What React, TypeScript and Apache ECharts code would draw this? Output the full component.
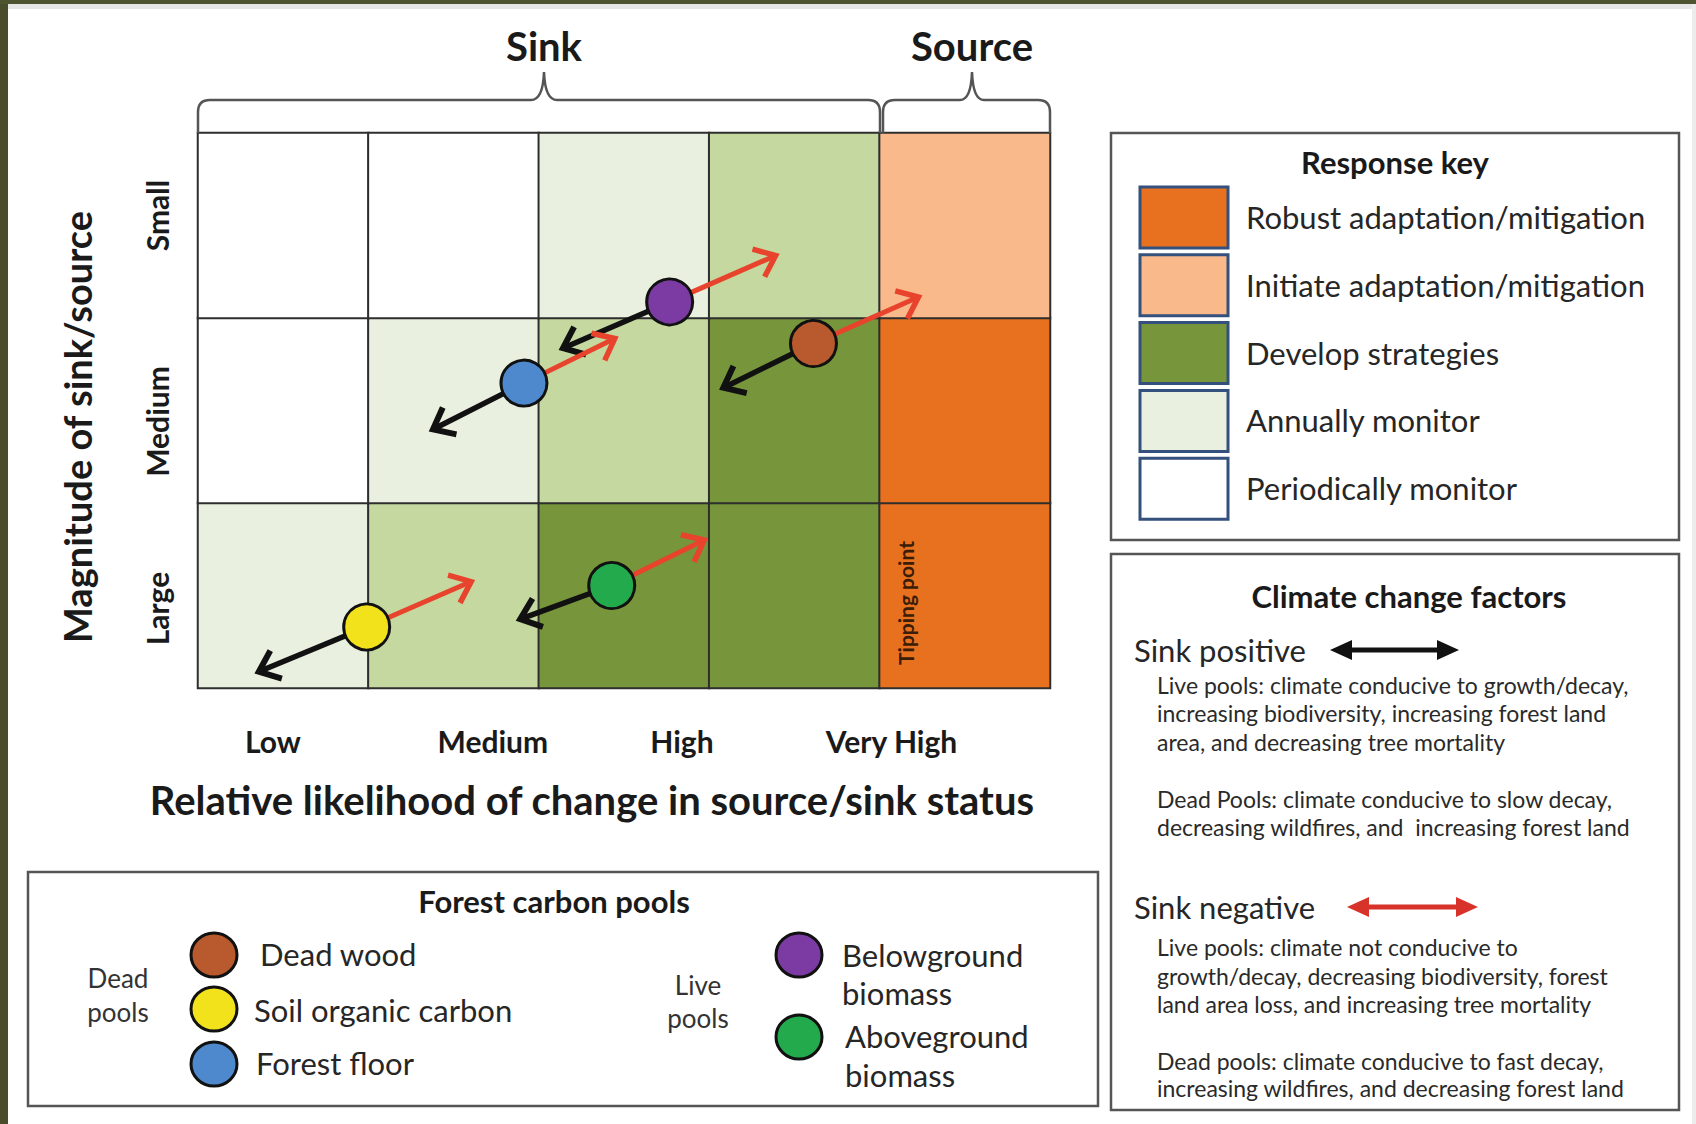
import React, { useEffect, useRef } from 'react';
import * as echarts from 'echarts';

// ---------- data ----------
const likelihoodCols = ['Low', 'Medium', 'High', 'Very High', 'Source'];
const magnitudeRows = ['Large', 'Medium', 'Small'];
const levelColors = ['#ffffff', '#e9f0df', '#c4d89f', '#77953b', '#f9b98b', '#e8711f'];
// levels per row (Large, Medium, Small) and column
const cellLevels = [
  [1, 2, 3, 3, 5],
  [0, 1, 2, 3, 5],
  [0, 0, 1, 2, 4],
];
const likelihoodTickLabels = ['Low', 'Medium', 'High', 'Very High'];
const likelihoodTickPos = [0.44, 1.73, 2.84, 4.07];

const poolNames = ['Dead wood', 'Soil organic carbon', 'Forest floor', 'Belowground biomass', 'Aboveground biomass'];
const poolColors = ['#b85a2e', '#f2e21c', '#4d89cc', '#7b3ba3', '#22aa4c'];
const poolX = [3.612, 0.99, 1.913, 2.768, 2.428];
const poolY = [1.862, 0.33, 1.648, 2.087, 0.554];
const sinkPosX = [3.083, 0.357, 1.379, 2.142, 1.891];
const sinkPosY = [1.623, 0.088, 1.398, 1.837, 0.372];
const sinkNegX = [4.228, 1.603, 2.446, 3.39, 2.971];
const sinkNegY = [2.113, 0.575, 1.889, 2.338, 0.8];

const keyLabels = ['Robust adaptation/mitigation', 'Initiate adaptation/mitigation', 'Develop strategies', 'Annually monitor', 'Periodically monitor'];
const keyLevels = [5, 4, 3, 1, 0];

const sinkPositiveLines = [
  'Live pools: climate conducive to growth/decay,',
  'increasing biodiversity, increasing forest land',
  'area, and decreasing tree mortality',
  'Dead Pools: climate conducive to slow decay,',
  'decreasing wildfires, and  increasing forest land',
];
const sinkNegativeLines = [
  'Live pools: climate not conducive to',
  'growth/decay, decreasing biodiversity, forest',
  'land area loss, and increasing tree mortality',
  'Dead pools: climate conducive to fast decay,',
  'increasing wildfires, and decreasing forest land',
];

const FONT = 'Lato, "Open Sans", sans-serif';

function txt(x: number, y: number, text: string, size: number, opts: any = {}) {
  const align = opts.align || 'left';
  return {
    type: 'text',
    x,
    y,
    z: 100,
    rotation: opts.rotation || 0,
    style: {
      text,
      fill: opts.color || '#222',
      fontSize: size,
      fontWeight: opts.bold ? 'bold' : 'normal',
      fontFamily: FONT,
      align,
      textAlign: align,
      verticalAlign: 'middle',
      textVerticalAlign: 'middle',
    },
  };
}

function arrowRender(color: string, width: number, head: number) {
  return (params: any, api: any) => {
    const p0 = api.coord([api.value(0), api.value(1)]);
    const p1 = api.coord([api.value(2), api.value(3)]);
    const ang = Math.atan2(p1[1] - p0[1], p1[0] - p0[0]);
    const a1 = ang + Math.PI - 0.68;
    const a2 = ang + Math.PI + 0.68;
    const h1 = [p1[0] + head * Math.cos(a1), p1[1] + head * Math.sin(a1)];
    const h2 = [p1[0] + head * Math.cos(a2), p1[1] + head * Math.sin(a2)];
    const e = [p1[0] - 3 * Math.cos(ang), p1[1] - 3 * Math.sin(ang)];
    return {
      type: 'group',
      children: [
        { type: 'line', shape: { x1: p0[0], y1: p0[1], x2: e[0], y2: e[1] }, style: { stroke: color, lineWidth: width } },
        { type: 'polyline', shape: { points: [h1, p1, h2] }, style: { stroke: color, lineWidth: width + 0.5, fill: null, lineJoin: 'miter' } },
      ],
    };
  };
}

function doubleArrow(x1: number, x2: number, y: number, color: string) {
  return [
    { type: 'line', z: 100, shape: { x1: x1 + 12, y1: y, x2: x2 - 12, y2: y }, style: { stroke: color, lineWidth: 5 } },
    { type: 'polygon', z: 100, shape: { points: [[x1, y], [x1 + 22, y - 10], [x1 + 22, y + 10]] }, style: { fill: color } },
    { type: 'polygon', z: 100, shape: { points: [[x2, y], [x2 - 22, y - 10], [x2 - 22, y + 10]] }, style: { fill: color } },
  ];
}

echarts.graphic.registerShape(
  'sinkBracket',
  echarts.graphic.extendPath('M198,133 L198,112 Q198,100 210,100 L531,100 Q543,100 544,72 Q545,100 557,100 L868,100 Q880,100 880,112 L880,133', {})
);
echarts.graphic.registerShape(
  'sourceBracket',
  echarts.graphic.extendPath('M883,133 L883,112 Q883,100 895,100 L960,100 Q971,100 972,72 Q973,100 984,100 L1038,100 Q1050,100 1050,112 L1050,133', {})
);

const rowLabelStyle = { fontSize: 30, fontWeight: 'bold', fontFamily: FONT, color: '#1a1a1a' };

export default function App() {
  const ref = useRef<HTMLDivElement>(null);
  useEffect(() => {
    if (!ref.current) return;
    const chart = echarts.init(ref.current, null, { renderer: 'svg' });

    const heatData: any[] = [];
    cellLevels.forEach((row, r) => row.forEach((lvl, c) => heatData.push([c, r, lvl])));

    const graphics: any[] = [];
    // frame
    graphics.push({ type: 'rect', z: 100, shape: { x: 0, y: 0, width: 8, height: 1124 }, style: { fill: '#4a4d29' } });
    graphics.push({ type: 'rect', z: 100, shape: { x: 0, y: 0, width: 1696, height: 4 }, style: { fill: '#4f5430' } });
    graphics.push({ type: 'rect', z: 99, shape: { x: 0, y: 4, width: 1696, height: 5 }, style: { fill: '#e6e6e6' } });
    graphics.push({ type: 'rect', z: 99, shape: { x: 1692, y: 0, width: 4, height: 1124 }, style: { fill: '#ececec' } });

    // brackets
    graphics.push({ type: 'sinkBracket', z: 100, style: { stroke: '#555', fill: null, lineWidth: 2.5 } });
    graphics.push({ type: 'sourceBracket', z: 100, style: { stroke: '#555', fill: null, lineWidth: 2.5 } });
    graphics.push(txt(544, 46, 'Sink', 40, { bold: true, align: 'center', color: '#1a1a1a' }));
    graphics.push(txt(972, 46, 'Source', 40, { bold: true, align: 'center', color: '#1a1a1a' }));

    // tipping point
    graphics.push(txt(905, 603, 'Tipping point', 21, { bold: true, align: 'center', rotation: Math.PI / 2, color: '#3b1c06' }));

    // response key box
    graphics.push({ type: 'rect', z: 100, shape: { x: 1111, y: 133, width: 568, height: 407 }, style: { fill: null, stroke: '#555', lineWidth: 2.5 } });
    graphics.push(txt(1395, 162, 'Response key', 31, { bold: true, align: 'center', color: '#1a1a1a' }));
    keyLabels.forEach((lab, i) => {
      const y = 187 + i * 67.8;
      graphics.push({ type: 'rect', z: 100, shape: { x: 1140, y, width: 88, height: 61 }, style: { fill: levelColors[keyLevels[i]], stroke: '#34507c', lineWidth: 3 } });
      graphics.push(txt(1246, y + 30, lab, 31, { color: '#262626' }));
    });

    // climate change factors box
    graphics.push({ type: 'rect', z: 100, shape: { x: 1111, y: 554, width: 568, height: 556 }, style: { fill: null, stroke: '#555', lineWidth: 2.5 } });
    graphics.push(txt(1409, 596, 'Climate change factors', 31, { bold: true, align: 'center', color: '#1a1a1a' }));
    graphics.push(txt(1134, 650, 'Sink positive', 31, { color: '#262626' }));
    graphics.push(...doubleArrow(1330, 1459, 650, '#111'));
    const posY = [685, 713, 742, 799, 827];
    sinkPositiveLines.forEach((l, i) => graphics.push(txt(1157, posY[i], l, 23, { color: '#2a2a2a' })));
    graphics.push(txt(1134, 907, 'Sink negative', 31, { color: '#262626' }));
    graphics.push(...doubleArrow(1347, 1478, 907, '#d8332a'));
    const negY = [947, 976, 1004, 1061, 1088];
    sinkNegativeLines.forEach((l, i) => graphics.push(txt(1157, negY[i], l, 23, { color: '#2a2a2a' })));

    // forest carbon pools box
    graphics.push({ type: 'rect', z: 100, shape: { x: 28, y: 872, width: 1070, height: 234 }, style: { fill: null, stroke: '#555', lineWidth: 2.5 } });
    graphics.push(txt(554, 901, 'Forest carbon pools', 31, { bold: true, align: 'center', color: '#1a1a1a' }));
    graphics.push(txt(118, 978, 'Dead', 26, { align: 'center', color: '#333' }));
    graphics.push(txt(118, 1012, 'pools', 26, { align: 'center', color: '#333' }));
    graphics.push(txt(698, 985, 'Live', 26, { align: 'center', color: '#333' }));
    graphics.push(txt(698, 1018, 'pools', 26, { align: 'center', color: '#333' }));
    const legendPos = [
      { cx: 214, cy: 955, lines: [[260, 954, 'Dead wood']] },
      { cx: 214, cy: 1009, lines: [[254, 1010, 'Soil organic carbon']] },
      { cx: 214, cy: 1064, lines: [[256, 1063, 'Forest floor']] },
      { cx: 799, cy: 955, lines: [[842, 955, 'Belowground'], [842, 993, 'biomass']] },
      { cx: 799, cy: 1037, lines: [[845, 1036, 'Aboveground'], [845, 1075, 'biomass']] },
    ];
    legendPos.forEach((p, i) => {
      graphics.push({ type: 'ellipse', z: 100, shape: { cx: p.cx, cy: p.cy, rx: 23, ry: 22 }, style: { fill: poolColors[i], stroke: '#111', lineWidth: 3 } });
      p.lines.forEach((l: any) => graphics.push(txt(l[0], l[1], l[2], 31, { color: '#262626' })));
    });

    const option: any = {
      animation: false,
      backgroundColor: '#ffffff',
      grid: { left: 198, top: 133, width: 852, height: 555 },
      xAxis: [
        {
          type: 'category',
          position: 'bottom',
          data: likelihoodCols,
          axisLine: { show: false },
          axisTick: { show: false },
          axisLabel: { show: false },
          splitLine: { show: false },
          name: 'Relative likelihood of change in source/sink status',
          nameLocation: 'middle',
          nameGap: 92,
          nameTextStyle: { fontSize: 40, fontWeight: 'bold', fontFamily: FONT, color: '#1a1a1a', padding: [0, 64, 0, 0] },
        },
        {
          type: 'value',
          position: 'bottom',
          min: 0,
          max: 5,
          axisLine: { show: false },
          axisTick: { show: false },
          splitLine: { show: false },
          axisLabel: {
            customValues: likelihoodTickPos,
            formatter: (v: number) => {
              let best = 0;
              likelihoodTickPos.forEach((p, i) => { if (Math.abs(p - v) < Math.abs(likelihoodTickPos[best] - v)) best = i; });
              return likelihoodTickLabels[best];
            },
            margin: 38,
            fontSize: 30,
            fontWeight: 'bold',
            fontFamily: FONT,
            color: '#1a1a1a',
          },
        },
      ],
      yAxis: [
        {
          type: 'category',
          data: magnitudeRows,
          axisLine: { show: false },
          axisTick: { show: false },
          splitLine: { show: false },
          axisLabel: {
            interval: 0,
            rotate: 90,
            margin: 26,
            ...rowLabelStyle,
            formatter: (v: string) => (v === 'Large' ? '{l|' + v + '}' : v === 'Medium' ? '{m|' + v + '}' : '{s|' + v + '}'),
            rich: {
              l: { ...rowLabelStyle, padding: [0, 26, 0, 0] },
              m: { ...rowLabelStyle, padding: [0, 22, 0, 0] },
              s: { ...rowLabelStyle, padding: [0, 0, 0, 20] },
            },
          },
          name: 'Magnitude of sink/source',
          nameLocation: 'middle',
          nameRotate: 90,
          nameGap: 102,
          nameTextStyle: { fontSize: 38, fontWeight: 'bold', fontFamily: FONT, color: '#1a1a1a', padding: [0, 33, 0, 0] },
        },
        { type: 'value', min: 0, max: 3, show: false },
      ],
      visualMap: {
        type: 'piecewise',
        show: false,
        seriesIndex: 0,
        dimension: 2,
        pieces: levelColors.map((c, i) => ({ value: i, color: c })),
      },
      series: [
        {
          type: 'heatmap',
          xAxisIndex: 0,
          yAxisIndex: 0,
          data: heatData,
          itemStyle: { borderColor: '#2e2e2e', borderWidth: 2 },
          emphasis: { disabled: true },
          z: 1,
        },
        {
          type: 'custom',
          name: 'Sink positive',
          xAxisIndex: 1,
          yAxisIndex: 1,
          z: 3,
          renderItem: arrowRender('#111111', 5.5, 24),
          encode: { x: [0, 2], y: [1, 3] },
          data: poolNames.map((n, i) => [poolX[i], poolY[i], sinkPosX[i], sinkPosY[i]]),
        },
        {
          type: 'custom',
          name: 'Sink negative',
          xAxisIndex: 1,
          yAxisIndex: 1,
          z: 3,
          renderItem: arrowRender('#e8432d', 5, 24),
          encode: { x: [0, 2], y: [1, 3] },
          data: poolNames.map((n, i) => [poolX[i], poolY[i], sinkNegX[i], sinkNegY[i]]),
        },
        {
          type: 'scatter',
          xAxisIndex: 1,
          yAxisIndex: 1,
          z: 5,
          symbolSize: 46,
          itemStyle: { borderColor: '#111', borderWidth: 3, opacity: 1 },
          emphasis: { disabled: true },
          data: poolNames.map((n, i) => ({ name: n, value: [poolX[i], poolY[i]], itemStyle: { color: poolColors[i] } })),
        },
      ],
      graphic: { elements: graphics },
    };
    chart.setOption(option);
    return () => chart.dispose();
  }, []);
  return <div ref={ref} style={{ position: 'fixed', left: 0, top: 0, width: 1696, height: 1124 }} />;
}
